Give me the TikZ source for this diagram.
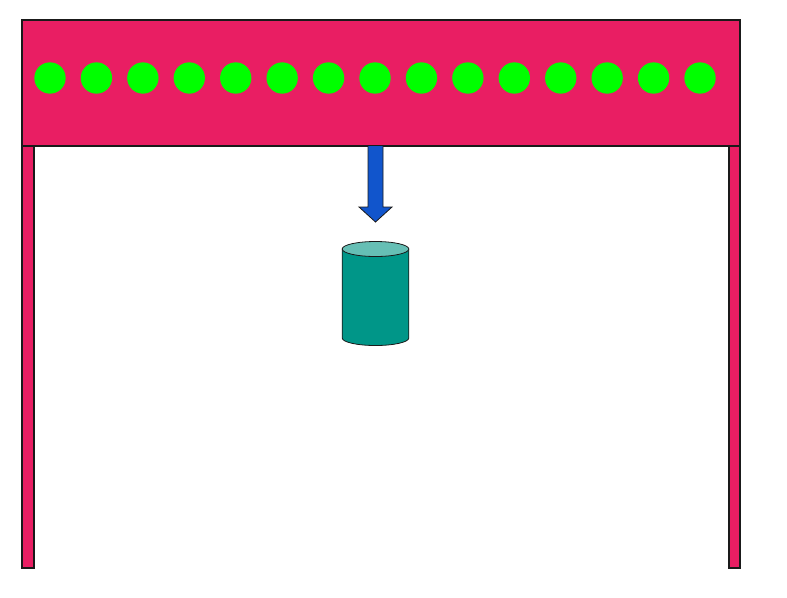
\documentclass[tikz,border=0pt]{standalone}
\usepackage{tikz}
\usetikzlibrary{positioning, calc}
\definecolor{mFrame}{HTML}{E91E63}
\definecolor{mLamp}{HTML}{00FF00}
\definecolor{mArrow}{HTML}{1155CC}
\definecolor{mCanBody}{HTML}{009688}
\definecolor{mCanTop}{HTML}{66BFB5}
\definecolor{mEdge}{HTML}{1A1A1A}

\begin{document}
\begin{tikzpicture}[x=0.75pt, y=-0.75pt,
    framepart/.style={fill=mFrame, draw=mEdge, line width=0.8pt},
    lamp/.style={circle, fill=mLamp, inner sep=0pt, minimum size=23.5pt}]
  \useasboundingbox (0,0) rectangle (787,597);
  % legs and top bar
  \draw[framepart] (22,146) rectangle (34,568);
  \draw[framepart] (729,146) rectangle (740,568);
  \draw[framepart] (22,20) rectangle (740,146);
  \coordinate (barbottom) at (375.5,146);
  % row of lamps
  \foreach \i in {0,...,14}
    \node[lamp] (lamp\i) at ({50+46.43*\i}, 78) {};
  % down arrow
  \draw[fill=mArrow, draw=mEdge, line width=0.6pt]
    ($(barbottom)+(-7.5,0)$) -- ++(0,61) -- ++(-9,0) -- (375.5,222)
    -- ++(16.5,-15) -- ++(-9,0) -- ($(barbottom)+(7.5,0)$);
  % can
  \coordinate (cantop) at (375.5,249);
  \coordinate (canbot) at (375.5,338);
  \draw[fill=mCanBody, draw=mEdge, line width=0.6pt]
    ($(cantop)+(-33.3,0)$) -- ($(canbot)+(-33.3,0)$)
    arc[start angle=180, end angle=360, x radius=33.3, y radius=-7.5]
    -- ($(cantop)+(33.3,0)$) -- cycle;
  \draw[fill=mCanTop, draw=mEdge, line width=0.6pt]
    (cantop) ellipse[x radius=33.3, y radius=7.5];
\end{tikzpicture}
\end{document}
